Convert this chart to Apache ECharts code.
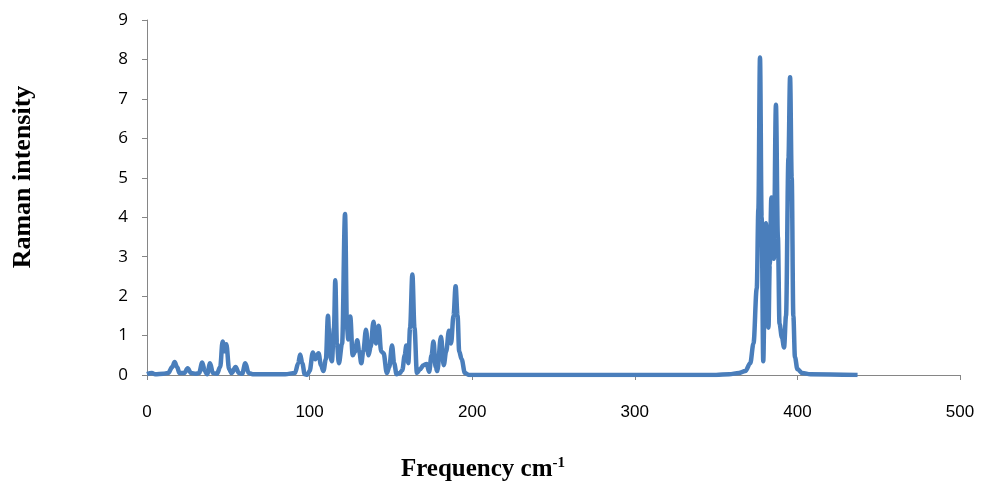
<!DOCTYPE html>
<html>
<head>
<meta charset="utf-8">
<script src="https://cdn.jsdelivr.net/npm/echarts@6/dist/echarts.min.js"></script>
<style>
  html, body { margin: 0; padding: 0; background: #fff; }
  #chart { width: 981px; height: 484px; }
</style>
</head>
<body>
<div id="chart"></div>
<script>
// frequency (cm-1) and Raman intensity
const freq = [0, 3, 5, 10, 13, 15.5, 17, 18.5, 20, 23, 25, 27, 30, 32, 34, 35.5, 37, 38.8, 40.5, 43,
  45, 46.5, 47.8, 48.8, 50.5, 52, 54.5, 56.5, 58.5, 60.5, 62.5, 65, 70, 85, 91, 93, 94.2, 95.5, 97, 98.5,
  100, 102, 103.5, 105.5, 107, 108.5, 110, 111.3, 112.5, 113.7, 115, 115.8, 116.8, 118, 120, 121.8, 123, 123.8,
  125, 126.5, 128, 129.3, 130.5, 131.8, 133, 134.7, 136.2, 137.5, 139.3, 140.8, 142.5, 144, 145.5, 147.5,
  149, 150.7, 152, 153.5, 155.5, 157, 158.5, 159.5, 160.7, 161.8, 163.2, 164.5, 166, 168, 170, 172, 173.5,
  175, 176.2, 177.5, 178.5, 180.8, 182.5, 184, 185.7, 187, 188.5, 189.8, 191, 192, 193.5, 195.5, 198,
  250, 300, 350, 358, 364, 368, 371, 373, 375, 376, 377, 378, 379, 380, 380.7, 381.5, 382.2, 383, 384,
  385.5, 386.8, 388, 389, 390.5, 391.8, 393, 394.5, 395.5, 396.5, 397.5, 398.5, 400, 403, 408, 437];
const intensity = [0.02, 0.05, 0.02, 0.03, 0.05, 0.2, 0.33, 0.2, 0.05, 0.05, 0.17, 0.05, 0.03, 0.05, 0.32, 0.1, 0.02, 0.3, 0.05, 0.03,
  0.2, 0.85, 0.6, 0.78, 0.15, 0.05, 0.2, 0.05, 0.03, 0.3, 0.05, 0.02, 0.02, 0.02, 0.05, 0.3, 0.52, 0.3, 0.02, 0,
  0.1, 0.57, 0.4, 0.55, 0.25, 0.1, 0.4, 1.5, 0.5, 0.35, 1.2, 2.4, 0.8, 0.3, 0.8, 4.08, 1.2, 0.9,
  1.48, 0.5, 0.6, 0.88, 0.6, 0.3, 0.6, 1.15, 0.5, 0.7, 1.35, 0.8, 1.25, 0.6, 0.55, 0.05,
  0.2, 0.75, 0.3, 0.02, 0.05, 0.12, 0.5, 0.75, 0.3, 1.2, 2.55, 1.2, 0.05, 0.15, 0.25, 0.28, 0.08,
  0.5, 0.85, 0.2, 0.1, 0.97, 0.25, 0.6, 1.12, 0.8, 1.5, 2.25, 1.5, 0.6, 0.4, 0.05, 0,
  0, 0, 0, 0.02, 0.05, 0.1, 0.3, 0.8, 2.2, 4.2, 8.05, 4, 0.35, 2.5, 3.85, 2.2, 1.2, 2.8, 4.5,
  2.95, 6.85, 3.5, 1.3, 0.95, 0.7, 1.5, 5.5, 7.55, 5, 1.5, 0.45, 0.15, 0.05, 0.02, 0];

const spectrum = freq.map((f, i) => [f, intensity[i]]);

const chart = echarts.init(document.getElementById('chart'));
chart.setOption({
  animation: false,
  grid: { left: 147, right: 21, top: 20, bottom: 109 },
  xAxis: {
    type: 'value', min: 0, max: 500, interval: 100,
    axisLine: { lineStyle: { color: '#868686', width: 1 } },
    axisTick: { show: true, length: 5, lineStyle: { color: '#868686' } },
    axisLabel: { margin: 29, fontFamily: 'Liberation Sans', fontSize: 17, color: '#000' },
    splitLine: { show: false }
  },
  yAxis: {
    type: 'value', min: 0, max: 9, interval: 1,
    axisLine: { show: true, lineStyle: { color: '#868686', width: 1 } },
    axisTick: { show: true, length: 5, lineStyle: { color: '#868686' } },
    axisLabel: { margin: 19, fontFamily: 'Open Sans', fontSize: 17, color: '#000' },
    splitLine: { show: false }
  },
  graphic: [
    {
      type: 'text', x: 23, y: 177, rotation: Math.PI / 2,
      style: {
        text: 'Raman intensity', fill: '#000',
        font: 'bold 26px "Liberation Serif"', align: 'center', verticalAlign: 'middle'
      }
    },
    {
      type: 'text', x: 483, y: 470,
      style: {
        text: '{t|Frequency cm}{s|-1}', align: 'center', verticalAlign: 'middle',
        rich: {
          t: { font: 'bold 25px "Liberation Serif"', fill: '#000' },
          s: { font: 'bold 15px "Liberation Serif"', fill: '#000', padding: [0, 0, 14, 0] }
        }
      }
    }
  ],
  series: [{
    type: 'line',
    data: spectrum,
    showSymbol: false,
    smooth: 0.35,
    smoothMonotone: 'x',
    lineStyle: { color: '#4A7EBB', width: 4.5 }
  }]
});
</script>
</body>
</html>
